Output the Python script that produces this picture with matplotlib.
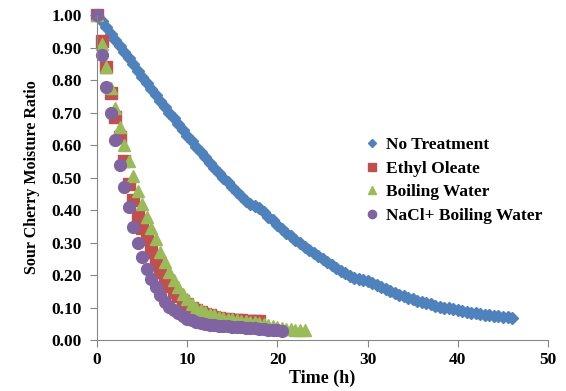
import matplotlib
matplotlib.use('Agg')
import matplotlib.pyplot as plt
import numpy as np

# time axis (h), half-hour readings
t_none = np.arange(0, 46.01, 0.5)
no_treatment = [1.000, 0.981, 0.962, 0.943, 0.924, 0.905, 0.886, 0.867, 0.848, 0.829,
                0.810, 0.791, 0.773, 0.755, 0.736, 0.718, 0.700, 0.682, 0.664, 0.646,
                0.628, 0.611, 0.594, 0.578, 0.562, 0.546, 0.530, 0.515, 0.500, 0.485,
                0.470, 0.456, 0.442, 0.428, 0.418, 0.413, 0.405, 0.393, 0.380, 0.368,
                0.355, 0.343, 0.330, 0.319, 0.308, 0.297, 0.287, 0.277, 0.267, 0.257,
                0.248, 0.239, 0.230, 0.221, 0.213, 0.205, 0.197, 0.191, 0.187, 0.186,
                0.181, 0.175, 0.170, 0.164, 0.158, 0.152, 0.146, 0.140, 0.135, 0.130,
                0.125, 0.121, 0.117, 0.113, 0.110, 0.106, 0.103, 0.100, 0.097, 0.094,
                0.091, 0.088, 0.086, 0.084, 0.082, 0.080, 0.078, 0.076, 0.075, 0.073,
                0.072, 0.070, 0.069]

t_ethyl = np.arange(0, 18.01, 0.5)
ethyl_oleate = [1.000, 0.920, 0.840, 0.760, 0.687, 0.625, 0.550, 0.480, 0.430, 0.385,
                0.345, 0.310, 0.270, 0.240, 0.210, 0.188, 0.166, 0.148, 0.134, 0.121,
                0.110, 0.100, 0.092, 0.086, 0.080, 0.076, 0.072, 0.069, 0.066, 0.064,
                0.063, 0.062, 0.061, 0.060, 0.059, 0.058, 0.057]

t_boil = np.arange(0, 23.01, 0.5)
boiling_water = [1.000, 0.912, 0.840, 0.775, 0.715, 0.655, 0.600, 0.550, 0.505, 0.460,
                 0.420, 0.380, 0.345, 0.310, 0.272, 0.240, 0.210, 0.184, 0.162, 0.142,
                 0.125, 0.111, 0.100, 0.092, 0.086, 0.081, 0.076, 0.072, 0.069, 0.066,
                 0.064, 0.062, 0.060, 0.058, 0.056, 0.054, 0.052, 0.049, 0.046, 0.043,
                 0.040, 0.037, 0.035, 0.033, 0.032, 0.031, 0.030]

t_nacl = np.arange(0, 20.51, 0.5)
nacl_boiling = [1.000, 0.878, 0.780, 0.698, 0.615, 0.540, 0.470, 0.408, 0.349, 0.300,
                0.254, 0.218, 0.188, 0.164, 0.138, 0.118, 0.103, 0.092, 0.082, 0.074,
                0.066, 0.061, 0.056, 0.052, 0.049, 0.047, 0.045, 0.044, 0.043, 0.042,
                0.041, 0.040, 0.039, 0.038, 0.037, 0.036, 0.035, 0.034, 0.032, 0.031,
                0.030, 0.029]

labels = ['No Treatment', 'Ethyl Oleate', 'Boiling Water', 'NaCl+ Boiling Water']
colors = ['#4F81BD', '#C0504D', '#9BBB59', '#8064A2']

plt.rcParams['font.family'] = ['Liberation Serif', 'DejaVu Serif']
plt.rcParams['font.weight'] = 'bold'

fig = plt.figure(figsize=(5.66, 3.91), dpi=100)
ax = fig.add_axes([0.1714, 0.1304, 0.7970, 0.8312])

ax.plot(t_none, no_treatment, 'D', color=colors[0], markersize=6.5, label=labels[0], linestyle='none', clip_on=False)
ax.plot(t_ethyl, ethyl_oleate, 's', color=colors[1], markersize=8, label=labels[1], linestyle='none', clip_on=False)
ax.plot(t_boil, boiling_water, '^', color=colors[2], markersize=9, label=labels[2], linestyle='none', clip_on=False)
ax.plot(t_nacl, nacl_boiling, 'o', color=colors[3], markersize=8.5, label=labels[3], linestyle='none', clip_on=False)

ax.set_xlim(0, 50)
ax.set_ylim(0, 1.0)
ax.set_xticks(np.arange(0, 51, 10))
ax.set_yticks(np.arange(0, 1.01, 0.1))
ax.set_yticklabels(['%.2f' % v for v in np.arange(0, 1.01, 0.1)])

for s in ['top', 'right']:
    ax.spines[s].set_visible(False)
for s in ['left', 'bottom']:
    ax.spines[s].set_color('#868686')
ax.tick_params(axis='both', colors='#868686', labelcolor='black', labelsize=12.5, length=5, direction='out')
ax.tick_params(axis='y', pad=6)
for lab in ax.get_xticklabels() + ax.get_yticklabels():
    lab.set_fontweight('bold')

ax.set_xlabel('Time (h)', fontsize=13, fontweight='bold', labelpad=1)
ax.set_ylabel('Sour Cherry Moisture Ratio', fontsize=11.5, fontweight='bold', labelpad=8)

leg = ax.legend(loc='upper left', bbox_to_anchor=(0.58, 0.645), frameon=False,
                prop={'size': 12.5, 'weight': 'bold'}, markerscale=0.7,
                handlelength=0.7, handletextpad=0.5, labelspacing=0.42, borderaxespad=0)

fig.savefig('out.png', dpi=100)
